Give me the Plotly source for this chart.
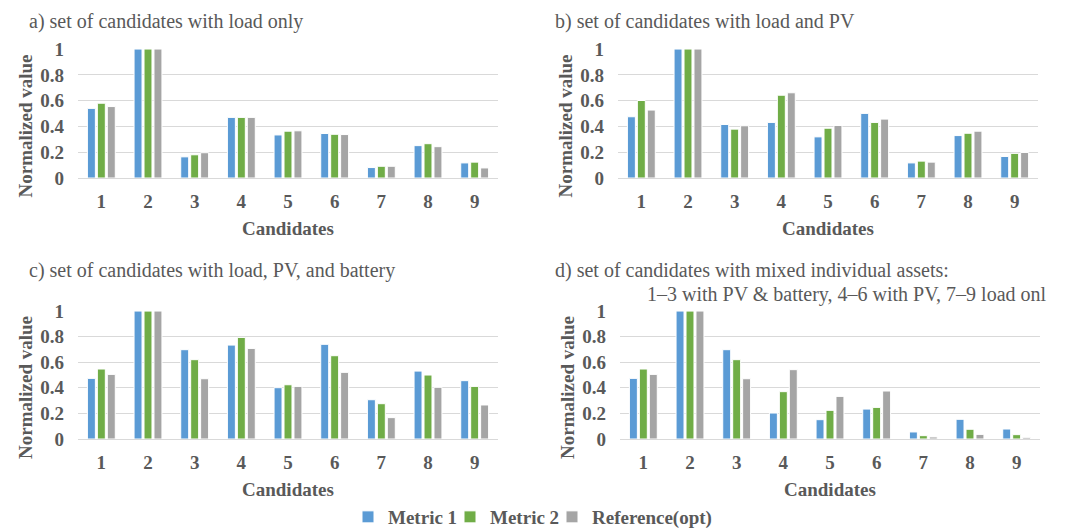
import plotly.graph_objects as go

candidates = ["1", "2", "3", "4", "5", "6", "7", "8", "9"]
series_names = ["Metric 1", "Metric 2", "Reference(opt)"]
colors = ["#5B9BD5", "#70AD47", "#A5A5A5"]

# a) load only
a_metric1 = [0.540, 1.0, 0.164, 0.470, 0.334, 0.345, 0.081, 0.251, 0.117]
a_metric2 = [0.580, 1.0, 0.180, 0.470, 0.363, 0.339, 0.091, 0.266, 0.123]
a_ref = [0.554, 1.0, 0.196, 0.470, 0.366, 0.337, 0.091, 0.243, 0.078]
# b) load and PV
b_metric1 = [0.475, 1.0, 0.415, 0.431, 0.319, 0.501, 0.117, 0.329, 0.167]
b_metric2 = [0.601, 1.0, 0.379, 0.642, 0.386, 0.431, 0.131, 0.347, 0.191]
b_ref = [0.527, 1.0, 0.405, 0.661, 0.407, 0.457, 0.123, 0.363, 0.198]
# c) load, PV and battery
c_metric1 = [0.474, 1.0, 0.698, 0.734, 0.401, 0.740, 0.307, 0.531, 0.456]
c_metric2 = [0.547, 1.0, 0.620, 0.794, 0.424, 0.651, 0.276, 0.500, 0.411]
c_ref = [0.505, 1.0, 0.471, 0.708, 0.411, 0.521, 0.167, 0.404, 0.266]
# d) mixed individual assets
d_metric1 = [0.474, 1.0, 0.698, 0.203, 0.151, 0.234, 0.055, 0.154, 0.078]
d_metric2 = [0.547, 1.0, 0.620, 0.370, 0.224, 0.247, 0.026, 0.076, 0.034]
d_ref = [0.505, 1.0, 0.471, 0.542, 0.333, 0.375, 0.016, 0.036, 0.013]

titles = [
    "a) set of candidates with load only",
    "b) set of candidates with load and PV",
    "c) set of candidates with load, PV, and battery",
    "d) set of candidates with mixed individual assets:",
]
title_d2 = "1\u20133 with PV & battery, 4\u20136 with PV, 7\u20139 load onl"
y_title = "Normalized value"
x_title = "Candidates"
y_ticks = [0, 0.2, 0.4, 0.6, 0.8, 1]
y_ticktext = ["0", "0.2", "0.4", "0.6", "0.8", "1"]

W, H = 1080, 530
FONT = "Liberation Serif"
TXT = "#595959"

def fx(px):
    return px / W

def fy(py):
    return (H - py) / H

def bold(s):
    return "<b>" + s + "</b>"

# pixel boxes: (left, right, top, bottom)
boxes = [(78, 498, 49, 178), (618, 1038, 49, 178), (78, 498, 311, 439), (620, 1040, 311, 439)]
data_sets = [
    (a_metric1, a_metric2, a_ref),
    (b_metric1, b_metric2, b_ref),
    (c_metric1, c_metric2, c_ref),
    (d_metric1, d_metric2, d_ref),
]
legend_ids = ["legend", "legend2", "legend3"]
legend_left_px = [348, 450, 552]

fig = go.Figure()
layout = dict()
annotations = []
for i, (box, vals) in enumerate(zip(boxes, data_sets)):
    n = "" if i == 0 else str(i + 1)
    for s in range(3):
        fig.add_trace(go.Bar(
            x=candidates, y=vals[s], name=bold(series_names[s]),
            marker=dict(color=colors[s], line=dict(color="white", width=1)),
            xaxis="x" + n, yaxis="y" + n, showlegend=(i == 0),
            legendgroup=series_names[s], legend=legend_ids[s],
        ))
    l, r, t, b = box
    layout["xaxis" + n] = dict(
        domain=[fx(l), fx(r)], anchor="y" + n, type="category",
        tickvals=candidates, ticktext=[bold(c) for c in candidates],
        showgrid=False, showline=True, linecolor="#D9D9D9", linewidth=1,
        ticks="", ticklabelstandoff=6, automargin=False,
        tickfont=dict(family=FONT, size=19, color=TXT),
    )
    layout["yaxis" + n] = dict(
        domain=[fy(b), fy(t)], anchor="x" + n, range=[0, 1.0005],
        tickvals=y_ticks, ticktext=[bold(v) for v in y_ticktext],
        showgrid=True, gridcolor="#D9D9D9", gridwidth=1, zeroline=False,
        ticks="", ticklabelstandoff=13, automargin=False,
        tickfont=dict(family=FONT, size=19, color=TXT),
    )
    annotations.append(dict(
        text=bold(x_title), xref="paper", yref="paper",
        x=fx((l + r) / 2), y=fy(b + 50), xanchor="center", yanchor="middle",
        showarrow=False, font=dict(family=FONT, size=19, color=TXT),
    ))
    annotations.append(dict(
        text=bold(y_title), xref="paper", yref="paper",
        x=fx(l - 53), y=fy((t + b) / 2 + 13), xanchor="center", yanchor="middle",
        textangle=-90, showarrow=False,
        font=dict(family=FONT, size=19, color=TXT),
    ))

title_pos = [(27, 22), (553, 22), (27, 270), (553, 270)]
for (tx, ty), tt in zip(title_pos, titles):
    annotations.append(dict(
        text=tt, xref="paper", yref="paper", x=fx(tx), y=fy(ty),
        xanchor="left", yanchor="middle", showarrow=False,
        font=dict(family=FONT, size=20, color=TXT),
    ))
annotations.append(dict(
    text=title_d2, xref="paper", yref="paper", x=fx(645), y=fy(294),
    xanchor="left", yanchor="middle", showarrow=False,
    font=dict(family=FONT, size=20, color=TXT),
))

for lid, lx in zip(legend_ids, legend_left_px):
    layout[lid] = dict(
        orientation="h", x=fx(lx), xanchor="left", y=fy(517), yanchor="middle",
        font=dict(family=FONT, size=19, color=TXT),
        itemwidth=30, bgcolor="rgba(0,0,0,0)",
    )

fig.update_layout(
    **layout,
    annotations=annotations,
    width=W, height=H,
    margin=dict(l=0, r=0, t=0, b=0, autoexpand=False),
    paper_bgcolor="white", plot_bgcolor="white",
    barmode="group", bargap=0.36, bargroupgap=0.2,
    showlegend=True,
)

fig.write_html(
    "out.html",
    config={"displayModeBar": False},
    post_script="document.body.style.margin='0';document.body.style.overflow='hidden';",
)
